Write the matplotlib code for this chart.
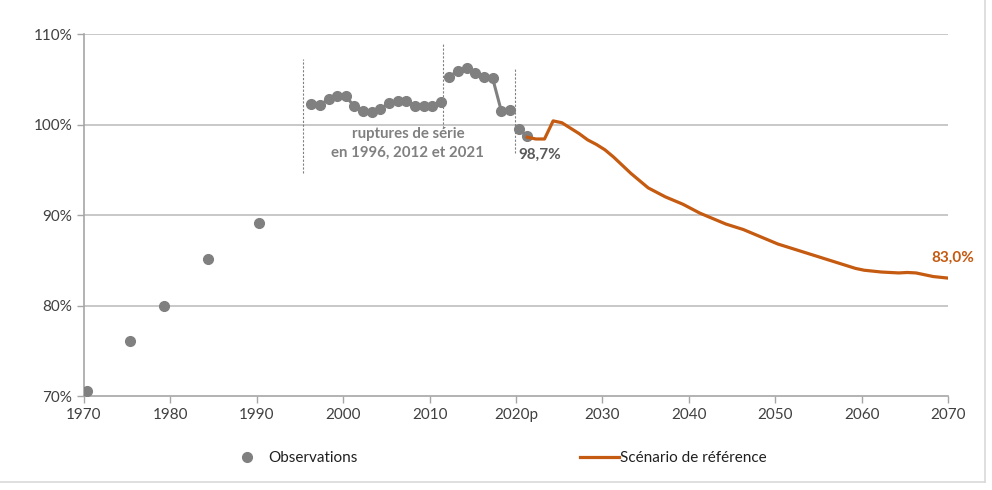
import numpy as np
import matplotlib.pyplot as plt
from matplotlib.lines import Line2D

plt.rcParams['font.family'] = ['Lato', 'DejaVu Sans']

# observations (isolated early points, then three series separated by breaks)
early_years = [1970, 1975, 1979, 1984, 1990]
early_vals = [70.6, 76.1, 80.0, 85.1, 89.1]

seg1_years = list(range(1996, 2012))
seg1_vals = [102.3, 102.15, 102.8, 103.1, 103.1, 102.0, 101.5, 101.4,
             101.7, 102.4, 102.6, 102.6, 102.0, 102.0, 102.1, 102.5]
seg2_years = list(range(2012, 2020))
seg2_vals = [105.3, 105.95, 106.2, 105.7, 105.3, 105.1, 101.5, 101.6]
seg3_years = [2020, 2021]
seg3_vals = [99.5, 98.7]

# reference scenario
proj_years = list(range(2021, 2071))
proj_vals = [98.6, 98.4, 98.4, 100.4, 100.2, 99.6, 99.0, 98.3, 97.8, 97.2,
             96.4, 95.5, 94.6, 93.8, 93.0, 92.5, 92.0, 91.6, 91.2, 90.7,
             90.2, 89.8, 89.4, 89.0, 88.7, 88.4, 88.0, 87.6, 87.2, 86.8,
             86.5, 86.2, 85.9, 85.6, 85.3, 85.0, 84.7, 84.4, 84.1, 83.9,
             83.8, 83.7, 83.65, 83.6, 83.65, 83.6, 83.4, 83.2, 83.1, 83.0]

tick_years = list(range(1970, 2071, 10))
tick_labels = ['1970', '1980', '1990', '2000', '2010', '2020p',
               '2030', '2040', '2050', '2060', '2070']

grey = '#808080'
orange = '#C55A11'
txt = '#404040'
off = 0.3  # points sit inside each year category

fig = plt.figure(figsize=(9.92, 4.9), dpi=100)
ax = fig.add_axes([0.0847, 0.1918, 0.8709, 0.7388])

for y in [80, 90, 100, 110]:
    ax.axhline(y, color='#bfbfbf', lw=1.2, zorder=0)

# series break markers
for xb, y0, y1 in [(1995.3, 94.6, 107.2), (2011.6, 99.6, 109.0), (2019.9, 96.9, 106.2)]:
    ax.plot([xb, xb], [y0, y1], color=grey, lw=0.8, ls=(0, (2, 1.5)), zorder=1)

mk = dict(marker='o', ms=7, color=grey, mec=grey, zorder=3)
ax.plot(np.array(early_years) + off, early_vals, ls='none', **mk)
for yrs, vals in [(seg1_years, seg1_vals), (seg2_years, seg2_vals), (seg3_years, seg3_vals)]:
    ax.plot(np.array(yrs) + off, vals, lw=2.2, **mk)

ax.plot(np.array(proj_years) + off, proj_vals, color=orange, lw=2.3, zorder=4)

ax.text(2007.5, 97.9, 'ruptures de série\nen 1996, 2012 et 2021', ha='center', va='center',
        color=grey, fontsize=10.8, fontweight='bold', linespacing=1.5)
ax.text(2020.3, 96.6, '98,7%', ha='left', va='center', color='#595959',
        fontsize=11, fontweight='bold')
ax.text(2070.6, 85.3, '83,0%', ha='center', va='center', color=orange,
        fontsize=11, fontweight='bold', clip_on=False)

ax.set_xlim(1970, 2070)
ax.set_ylim(70, 110)
ax.set_xticks(tick_years)
ax.set_xticklabels(tick_labels)
ax.set_yticks([70, 80, 90, 100, 110])
ax.set_yticklabels(['70%', '80%', '90%', '100%', '110%'])
ax.tick_params(colors='#a6a6a6', labelcolor=txt, labelsize=11, length=5, width=1)
for s in ['top', 'right']:
    ax.spines[s].set_visible(False)
for s in ['left', 'bottom']:
    ax.spines[s].set_color('#a6a6a6')
    ax.spines[s].set_linewidth(1.2)

h1 = [Line2D([0], [0], marker='o', ls='none', color=grey, ms=7)]
h2 = [Line2D([0], [0], color=orange, lw=2.3)]
fig.legend(h1, ['Observations'], loc='center', bbox_to_anchor=(0.3, 0.065),
           frameon=False, fontsize=11, handlelength=1.2, labelcolor='#202020')
fig.legend(h2, ['Scénario de référence'], loc='center', bbox_to_anchor=(0.679, 0.065),
           frameon=False, fontsize=11, handlelength=2.5, handletextpad=0.1,
           labelcolor='#202020')

# chart area border (right and bottom visible)
fig.add_artist(Line2D([0.993, 0.993], [0.016, 1.0], transform=fig.transFigure,
                      color='#d9d9d9', lw=1.2))
fig.add_artist(Line2D([0.0, 0.993], [0.016, 0.016], transform=fig.transFigure,
                      color='#d9d9d9', lw=1.2))

fig.savefig('out.png', dpi=100)
